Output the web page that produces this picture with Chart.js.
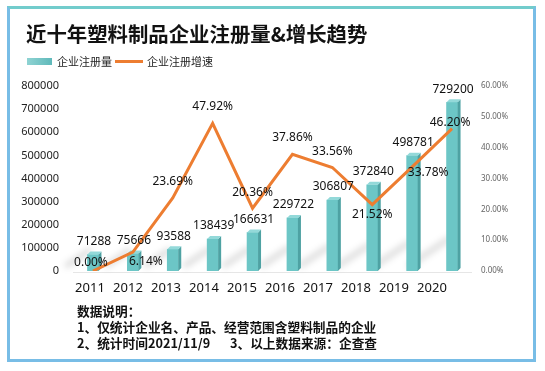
<!DOCTYPE html>
<html>
<head>
    <title>近十年塑料制品企业注册量&增长趋势</title>
    <style>
        body { margin: 0; background: #fff; font-family: "Noto Sans", "Noto Sans CJK SC", sans-serif; }
        #wrap { position: relative; width: 545px; height: 371px; overflow: hidden; }
        #frame {
            position: absolute; left: 7px; top: 6px; width: 523px; height: 350px;
            border: 3px solid #78bde6; border-top-color: #72cccc;
        }
        canvas { position: absolute; left: 0; top: 0; }
        .title {
            position: absolute; left: 26px; top: 22px; font-size: 20.4px; line-height: 22px;
            font-weight: bold; color: #111; font-family: "Noto Sans CJK SC", sans-serif; white-space: nowrap;
        }
        .legend { position: absolute; top: 54px; font-size: 11px; line-height: 14px; color: #222;
            font-family: "Noto Sans CJK SC", sans-serif; white-space: nowrap; }
        .swatch-bar { position: absolute; left: 27px; top: 58px; width: 25px; height: 7px;
            background: linear-gradient(90deg, #8fd3d3, #5fb9ba); }
        .swatch-line { position: absolute; left: 115px; top: 60px; width: 28px; height: 3px; background: #ed7d31; }
        .notes { position: absolute; left: 77px; top: 303px; font-size: 12.7px; line-height: 16px;
            font-weight: bold; color: #111; font-family: "Noto Sans CJK SC", sans-serif; white-space: nowrap; }
        .notes span { display: inline-block; width: 153px; }
    </style>
    <script src="https://cdn.jsdelivr.net/npm/chart.js"></script>
</head>
<body>
<div id="wrap">
    <div id="frame"></div>
    <canvas id="chart" width="545" height="371"></canvas>
    <div class="title">近十年塑料制品企业注册量&amp;增长趋势</div>
    <div class="swatch-bar"></div>
    <div class="legend" style="left:57px">企业注册量</div>
    <div class="swatch-line"></div>
    <div class="legend" style="left:147px">企业注册增速</div>
    <div class="notes">
        数据说明：<br>
        1、仅统计企业名、产品、经营范围含塑料制品的企业<br>
        <span>2、统计时间2021/11/9</span>3、以上数据来源：企查查
    </div>
</div>

<script>
    // data
    const years = ['2011', '2012', '2013', '2014', '2015', '2016', '2017', '2018', '2019', '2020'];
    const counts = [71288, 75666, 93588, 138439, 166631, 229722, 306807, 372840, 498781, 729200];
    const growth = [0.00, 6.14, 23.69, 47.92, 20.36, 37.86, 33.56, 21.52, 33.78, 46.20];
    const countTicks = [0, 100000, 200000, 300000, 400000, 500000, 600000, 700000, 800000];
    const growthTicks = [0, 10, 20, 30, 40, 50, 60];

    // where each growth label sits relative to its point
    const growthLabelOffset = [[-2, -8], [13, 10], [0, -16], [0, -17], [0, -16], [0, -17], [0, -16], [0, 10], [16, 6], [-2, -6]];

    const depth = 3;

    // fake 3D bars: soft shadow, side and top faces, plus baseline
    const bars3d = {
        id: 'bars3d',
        beforeDatasetsDraw(chart) {
            const ctx = chart.ctx;
            const y0 = chart.scales.y.getPixelForValue(0);
            ctx.save();
            ctx.strokeStyle = '#e6e6e6';
            ctx.lineWidth = 1;
            ctx.beginPath();
            ctx.moveTo(chart.chartArea.left, y0 + 1.5);
            ctx.lineTo(chart.chartArea.right, y0 + 1.5);
            ctx.stroke();
            // shadows behind bars
            ctx.filter = 'blur(3px)';
            ctx.strokeStyle = 'rgba(0,0,0,0.13)';
            ctx.lineWidth = 6;
            ctx.lineCap = 'round';
            chart.getDatasetMeta(0).data.forEach(bar => {
                const p = bar.getProps(['x', 'y', 'base', 'width'], true);
                const l = p.x - p.width / 2;
                const h = p.base - p.y;
                const dx = 18 + h * 0.11;
                ctx.beginPath();
                ctx.moveTo(l - dx, p.base - 6);
                ctx.lineTo(l + 1, p.base - 6 - dx * 0.7);
                ctx.stroke();
            });
            ctx.restore();
        },
        afterDatasetDraw(chart, args) {
            if (args.index !== 0) return;
            const ctx = chart.ctx;
            ctx.save();
            args.meta.data.forEach(bar => {
                const p = bar.getProps(['x', 'y', 'base', 'width'], true);
                const l = p.x - p.width / 2, r = p.x + p.width / 2;
                ctx.fillStyle = '#4ea2a3';
                ctx.beginPath();
                ctx.moveTo(r, p.base);
                ctx.lineTo(r + depth, p.base - depth);
                ctx.lineTo(r + depth, p.y - depth);
                ctx.lineTo(r, p.y);
                ctx.closePath();
                ctx.fill();
                ctx.fillStyle = '#93d9d9';
                ctx.beginPath();
                ctx.moveTo(l, p.y);
                ctx.lineTo(l + depth, p.y - depth);
                ctx.lineTo(r + depth, p.y - depth);
                ctx.lineTo(r, p.y);
                ctx.closePath();
                ctx.fill();
            });
            ctx.restore();
        },
        afterDatasetsDraw(chart) {
            const ctx = chart.ctx;
            ctx.save();
            ctx.font = '12px "Noto Sans", sans-serif';
            ctx.fillStyle = '#111';
            ctx.textAlign = 'center';
            ctx.textBaseline = 'middle';
            chart.getDatasetMeta(0).data.forEach((bar, i) => {
                ctx.fillText(String(counts[i]), bar.x + 1, bar.y - depth - 10);
            });
            chart.getDatasetMeta(1).data.forEach((pt, i) => {
                const o = growthLabelOffset[i];
                ctx.fillText(growth[i].toFixed(2) + '%', pt.x + o[0], pt.y + o[1]);
            });
            ctx.restore();
        }
    };

    new Chart(document.getElementById('chart').getContext('2d'), {
        data: {
            labels: years,
            datasets: [{
                type: 'bar',
                label: '企业注册量',
                data: counts,
                backgroundColor: '#6cc6c6',
                barThickness: 11,
                yAxisID: 'y',
                order: 1
            }, {
                type: 'line',
                label: '企业注册增速',
                data: growth,
                borderColor: '#ed7d31',
                borderWidth: 3,
                pointRadius: 0,
                tension: 0,
                yAxisID: 'y2',
                order: 0
            }]
        },
        options: {
            responsive: false,
            animation: false,
            layout: { padding: { left: 0, right: 0, top: 86, bottom: 70 } },
            plugins: { legend: { display: false }, tooltip: { enabled: false } },
            scales: {
                x: { type: 'category', display: false },
                xl: {
                    type: 'linear',
                    position: 'bottom',
                    min: -0.447,
                    max: 10.053,
                    afterBuildTicks: s => { s.ticks = years.map((y, i) => ({ value: i })); },
                    afterFit: s => { s.height = 30; },
                    grid: { display: false },
                    border: { display: false },
                    ticks: {
                        padding: 1,
                        color: '#111',
                        font: { size: 13, family: '"Noto Sans", sans-serif' },
                        callback: v => years[v]
                    }
                },
                y: {
                    position: 'left',
                    min: 0,
                    max: 800000,
                    afterBuildTicks: s => { s.ticks = countTicks.map(v => ({ value: v })); },
                    afterFit: s => { s.width = 73; },
                    grid: { display: false },
                    border: { display: false },
                    ticks: {
                        padding: 6,
                        color: '#222',
                        font: { size: 11, family: '"Noto Sans", sans-serif' },
                        callback: v => String(v)
                    }
                },
                y2: {
                    position: 'right',
                    min: 0,
                    max: 60,
                    afterBuildTicks: s => { s.ticks = growthTicks.map(v => ({ value: v })); },
                    afterFit: s => { s.width = 73; },
                    grid: { display: false },
                    border: { display: false },
                    ticks: {
                        padding: 1,
                        color: '#666',
                        font: { size: 8, family: '"Noto Sans", sans-serif' },
                        callback: v => v.toFixed(2) + '%'
                    }
                }
            }
        },
        plugins: [bars3d]
    });
</script>
</body>
</html>
